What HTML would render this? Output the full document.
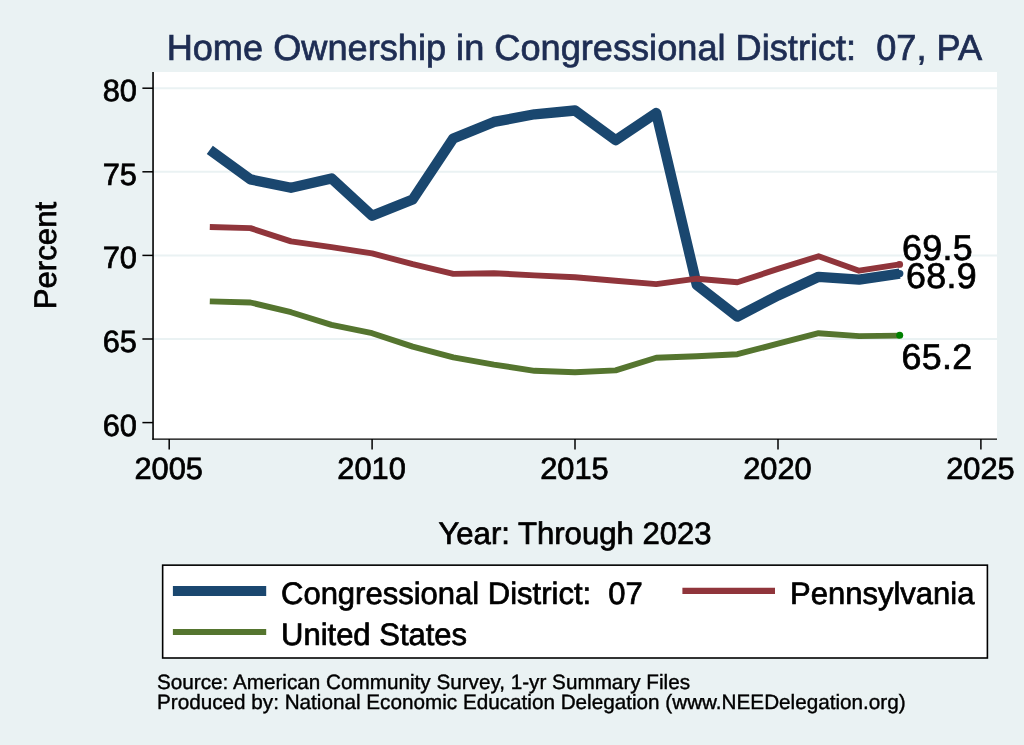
<!DOCTYPE html>
<html lang="en">
<head>
<meta charset="utf-8">
<title>Home Ownership in Congressional District: 07, PA</title>
<style>
html,body{margin:0;padding:0;background:#EAF2F3;}
body{width:1024px;height:745px;overflow:hidden;font-family:"Liberation Sans",Arial,Helvetica,sans-serif;}
svg{display:block;will-change:transform;}
text{stroke:#000;stroke-width:.72px;text-rendering:geometricPrecision;}
text.n{stroke-width:.4px;}
text.t{stroke:#1E2D53;}

</style>
</head>
<body>
<svg width="1024" height="745" viewBox="0 0 1024 745" font-family="'Liberation Sans', Arial, Helvetica, sans-serif">
<rect width="1024" height="745" fill="#EAF2F3"/>
<rect x="153" y="72" width="844" height="367" fill="#fff"/>
<line x1="154" x2="997" y1="88.20" y2="88.20" stroke="#EAF2F3" stroke-width="2"/>
<line x1="154" x2="997" y1="171.80" y2="171.80" stroke="#EAF2F3" stroke-width="2"/>
<line x1="154" x2="997" y1="255.40" y2="255.40" stroke="#EAF2F3" stroke-width="2"/>
<line x1="154" x2="997" y1="339.00" y2="339.00" stroke="#EAF2F3" stroke-width="2"/>
<polyline points="209.8,149.9 250.4,179.4 291.0,187.8 331.5,178.4 372.1,215.7 412.7,199.5 453.3,138.4 493.9,121.9 534.5,114.3 575.0,110.5 615.6,140.2 656.2,113.0 696.8,285.0 737.4,316.6 778.0,295.5 818.6,276.8 859.1,279.7 899.7,273.6" fill="none" stroke="#1A476F" stroke-width="10.3" stroke-linejoin="round"/>
<polyline points="209.8,227.0 250.4,228.1 291.0,241.4 331.5,247.2 372.1,253.4 412.7,264.2 453.3,273.9 493.9,273.2 534.5,275.4 575.0,277.2 615.6,280.8 656.2,284.1 696.8,278.7 737.4,282.3 778.0,268.9 818.6,256.3 859.1,270.7 899.7,264.4" fill="none" stroke="#90353B" stroke-width="5.9" stroke-linejoin="round"/>
<polyline points="209.8,301.4 250.4,302.5 291.0,312.2 331.5,324.9 372.1,333.2 412.7,346.6 453.3,357.4 493.9,364.6 534.5,370.8 575.0,372.2 615.6,370.4 656.2,357.8 696.8,356.3 737.4,354.2 778.0,343.7 818.6,333.2 859.1,336.1 899.7,335.6" fill="none" stroke="#55752F" stroke-width="5.9" stroke-linejoin="round"/>
<circle cx="899.7" cy="273.6" r="3.7" fill="#1A476F"/>
<circle cx="899.7" cy="264.4" r="3.4" fill="#90353B"/>
<circle cx="899.7" cy="335.3" r="3.5" fill="#008000"/>
<line x1="153.05" x2="153.05" y1="72" y2="439.8" stroke="#000" stroke-width="1.6"/>
<line x1="152.3" x2="997" y1="439.1" y2="439.1" stroke="#000" stroke-width="1.4"/>
<line x1="142.4" x2="153" y1="88.20" y2="88.20" stroke="#000" stroke-width="1.5"/>
<text x="137.0" y="101.2" font-size="30.8" text-anchor="end">80</text>
<line x1="142.4" x2="153" y1="171.80" y2="171.80" stroke="#000" stroke-width="1.5"/>
<text x="137.0" y="184.8" font-size="30.8" text-anchor="end">75</text>
<line x1="142.4" x2="153" y1="255.40" y2="255.40" stroke="#000" stroke-width="1.5"/>
<text x="137.0" y="268.4" font-size="30.8" text-anchor="end">70</text>
<line x1="142.4" x2="153" y1="339.00" y2="339.00" stroke="#000" stroke-width="1.5"/>
<text x="137.0" y="352.0" font-size="30.8" text-anchor="end">65</text>
<line x1="142.4" x2="153" y1="422.60" y2="422.60" stroke="#000" stroke-width="1.5"/>
<text x="137.0" y="435.6" font-size="30.8" text-anchor="end">60</text>
<line x1="169.2" x2="169.2" y1="439" y2="449.5" stroke="#000" stroke-width="1.5"/>
<text x="168.7" y="479.0" font-size="30.8" text-anchor="middle">2005</text>
<line x1="372.1" x2="372.1" y1="439" y2="449.5" stroke="#000" stroke-width="1.5"/>
<text x="371.6" y="479.0" font-size="30.8" text-anchor="middle">2010</text>
<line x1="575.0" x2="575.0" y1="439" y2="449.5" stroke="#000" stroke-width="1.5"/>
<text x="574.5" y="479.0" font-size="30.8" text-anchor="middle">2015</text>
<line x1="778.0" x2="778.0" y1="439" y2="449.5" stroke="#000" stroke-width="1.5"/>
<text x="777.5" y="479.0" font-size="30.8" text-anchor="middle">2020</text>
<line x1="980.9" x2="980.9" y1="439" y2="449.5" stroke="#000" stroke-width="1.5"/>
<text x="980.4" y="479.0" font-size="30.8" text-anchor="middle">2025</text>
<text x="902.0" y="259.9" font-size="35.8" letter-spacing=".3">69.5</text>
<text x="906.0" y="288.0" font-size="35.8" letter-spacing=".3">68.9</text>
<text x="901.6" y="368.6" font-size="35.8" letter-spacing=".3">65.2</text>
<text x="574.4" y="59.8" class="t" font-size="36.19" fill="#1E2D53" text-anchor="middle" xml:space="preserve" style="white-space:pre">Home Ownership in Congressional District:  07, PA</text>
<text x="575" y="543.8" font-size="31.1" text-anchor="middle">Year: Through 2023</text>
<text transform="translate(56.0,255.6) rotate(-90)" font-size="31.2" text-anchor="middle">Percent</text>
<rect x="162.65" y="565.15" width="824.75" height="92.85" fill="#fff" stroke="#000" stroke-width="1.6"/>
<line x1="172.9" x2="266.2" y1="591" y2="591" stroke="#1A476F" stroke-width="10"/>
<line x1="172.9" x2="266.2" y1="632" y2="632" stroke="#55752F" stroke-width="6.1"/>
<line x1="682.4" x2="775" y1="590.9" y2="590.9" stroke="#90353B" stroke-width="6.1"/>
<text x="281" y="603.7" font-size="31" xml:space="preserve" style="white-space:pre">Congressional District:  07</text>
<text x="281" y="644.7" font-size="31">United States</text>
<text x="790" y="603.7" font-size="31">Pennsylvania</text>
<text class="n" x="157.0" y="688.9" font-size="20.7">Source: American Community Survey, 1-yr Summary Files</text>
<text class="n" x="157.0" y="708.9" font-size="20.7">Produced by: National Economic Education Delegation (www.NEEDelegation.org)</text>
</svg>
</body>
</html>
